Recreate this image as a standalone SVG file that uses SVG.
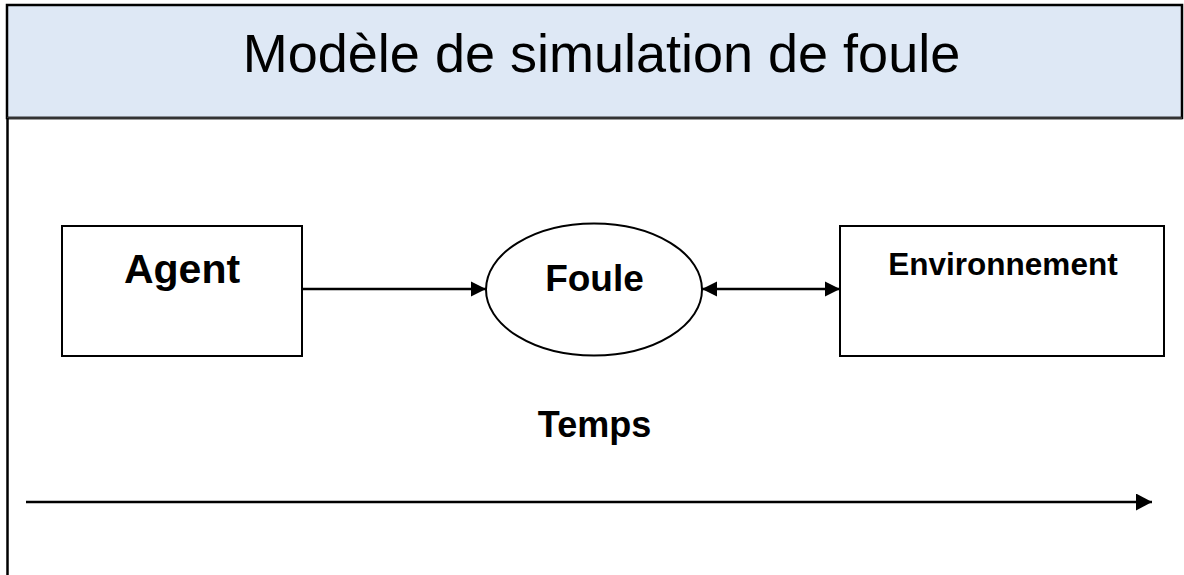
<svg xmlns="http://www.w3.org/2000/svg" width="1184" height="575" viewBox="0 0 1184 575">
<style>
  .box{fill:#fff;stroke:#000;stroke-width:2}
  .lbl{font-family:"Liberation Sans",Arial,sans-serif;font-weight:bold;fill:#000;text-anchor:middle}
  .title{font-family:"Liberation Sans",Arial,sans-serif;fill:#000;text-anchor:middle}
  .conn{stroke:#000;stroke-width:2.5;fill:none}
</style>
<defs>
  <marker id="ah" markerUnits="userSpaceOnUse" markerWidth="17" markerHeight="17" refX="15" refY="8" orient="auto">
    <path d="M0,0.5 L15,8 L0,15.5 Z" fill="#000"/>
  </marker>
  <marker id="ahs" markerUnits="userSpaceOnUse" markerWidth="17" markerHeight="17" refX="0" refY="8" orient="auto">
    <path d="M15,0.5 L0,8 L15,15.5 Z" fill="#000"/>
  </marker>
  <marker id="ahb" markerUnits="userSpaceOnUse" markerWidth="17" markerHeight="18" refX="16" refY="8.5" orient="auto">
    <path d="M0,0 L16,8.5 L0,17 Z" fill="#000"/>
  </marker>
</defs>
<rect width="1184" height="575" fill="#fff"/>
<g id="header">
  <rect x="7" y="5" width="1175" height="113" fill="#DEE8F5" stroke="#000" stroke-width="2.5"/>
  <line x1="7" y1="118" x2="1182" y2="118" stroke="#333" stroke-width="2.5"/>
  <text class="title" x="601.5" y="72" font-size="54">Modèle de simulation de foule</text>
</g>
<g id="frame">
  <line x1="7.5" y1="118" x2="7.5" y2="575" stroke="#000" stroke-width="2.5"/>
</g>
<g id="agent">
  <rect class="box" x="62" y="226" width="240" height="130"/>
  <text class="lbl" x="182" y="283" font-size="41">Agent</text>
</g>
<g id="foule">
  <ellipse class="box" cx="594" cy="289.5" rx="108" ry="66"/>
  <text class="lbl" x="594.5" y="291" font-size="37">Foule</text>
</g>
<g id="environnement">
  <rect class="box" x="840" y="226" width="324" height="130"/>
  <text class="lbl" x="1003" y="275" font-size="31.5">Environnement</text>
</g>
<g id="temps">
  <text class="lbl" x="594.5" y="437" font-size="36">Temps</text>
</g>
<g id="connectors">
  <line class="conn" x1="302" y1="289" x2="486" y2="289" marker-end="url(#ah)"/>
  <line class="conn" x1="702" y1="289" x2="840" y2="289" marker-start="url(#ahs)" marker-end="url(#ah)"/>
  <line class="conn" x1="26" y1="502" x2="1152" y2="502" stroke-width="3.5" marker-end="url(#ahb)"/>
</g>
</svg>
